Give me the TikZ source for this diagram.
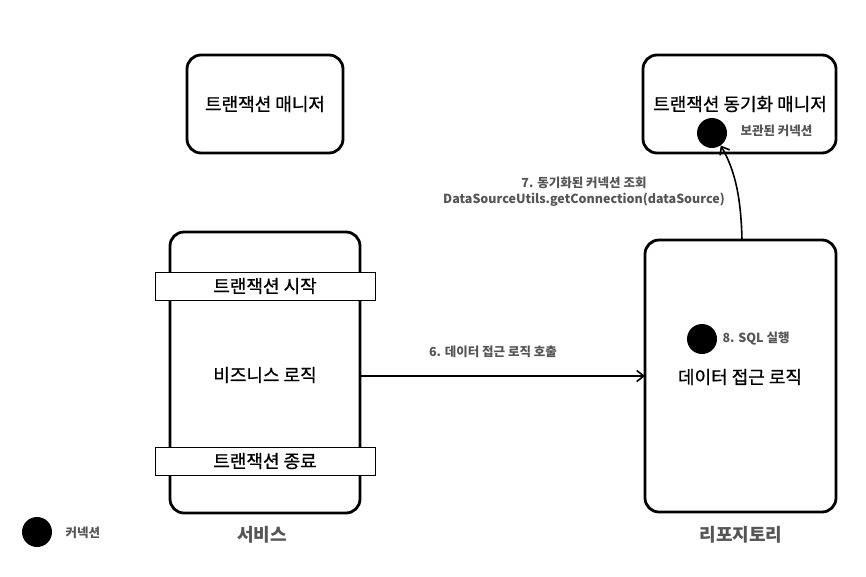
\documentclass[tikz,border=0pt]{standalone}
\usepackage{fontspec}
\setmainfont{Noto Sans CJK KR}
\newfontfamily\medfont[FakeBold=0.8]{Noto Sans CJK KR}
\usetikzlibrary{arrows.meta}
\definecolor{lbl}{HTML}{555555}
\tikzset{
  roughbox/.style={draw=black, line width=2.8pt, rounded corners=14pt, fill=white},
  strip/.style={draw=black, line width=0.8pt, fill=white},
  maintext/.style={font=\medfont\fontsize{18}{21}\selectfont, text=black},
  smalllbl/.style={font=\bfseries\fontsize{12.5}{16}\selectfont, text=lbl},
  biglbl/.style={font=\bfseries\fontsize{18}{21}\selectfont, text=lbl},
  conn/.style={circle, fill=black, inner sep=0pt, minimum size=30pt},
  arr/.style={line width=1.6pt, -{Straight Barb[length=7pt,width=11pt,line width=1.6pt]}}
}
\begin{document}
\begin{tikzpicture}[x=1pt,y=-1pt]
\useasboundingbox (0,0) rectangle (866,576);
% boxes
\draw[roughbox] (187,55) rectangle (343,153);
\node[maintext] (tm) at (265,104) {트랜잭션 매니저};
\draw[roughbox] (643,55) rectangle (836,153);
\node[maintext] (tsm) at (740,104) {트랜잭션 동기화 매니저};
\node[conn] (c1) at (712,133) {};
\node[smalllbl, anchor=west] (c1l) at (737,131) {보관된 커넥션};

\draw[roughbox] (170,232) rectangle (360,513);
\node[strip, minimum width=220pt, minimum height=28pt] (ts) at (265,286) {};
\node[maintext] (tst) at (265,286) {트랜잭션 시작};
\node[strip, minimum width=220pt, minimum height=28pt] (te) at (265,461) {};
\node[maintext] (tet) at (265,461) {트랜잭션 종료};
\node[maintext] (bl) at (265,375) {비즈니스 로직};
\node[biglbl] (svc) at (262,535) {서비스};

\draw[roughbox] (645,240) rectangle (836,512);
\node[conn] (c2) at (702,339) {};
\node[smalllbl, anchor=west] (c2l) at (719,339) {8. SQL 실행};
\node[maintext] (dal) at (740,377) {데이터 접근 로직};
\node[biglbl] (repo) at (741,535) {리포지토리};

% connectors
\coordinate (s6) at (360,376);
\coordinate (e6) at (645,376);
\draw[arr] (s6) -- (e6);
\node[smalllbl] (l6) at (493,352) {6. 데이터 접근 로직 호출};

\coordinate (s7) at (742,240);
\draw[arr] (s7) .. controls (741,200) and (736,172) .. (c1.-55);
\node[smalllbl, align=center] (l7) at (584,192) {7. 동기화된 커넥션 조회\\DataSourceUtils.getConnection(dataSource)};

% legend
\node[conn] (lc) at (37,532) {};
\node[smalllbl, anchor=west] (lcl) at (62,533) {커넥션};
\end{tikzpicture}
\end{document}
